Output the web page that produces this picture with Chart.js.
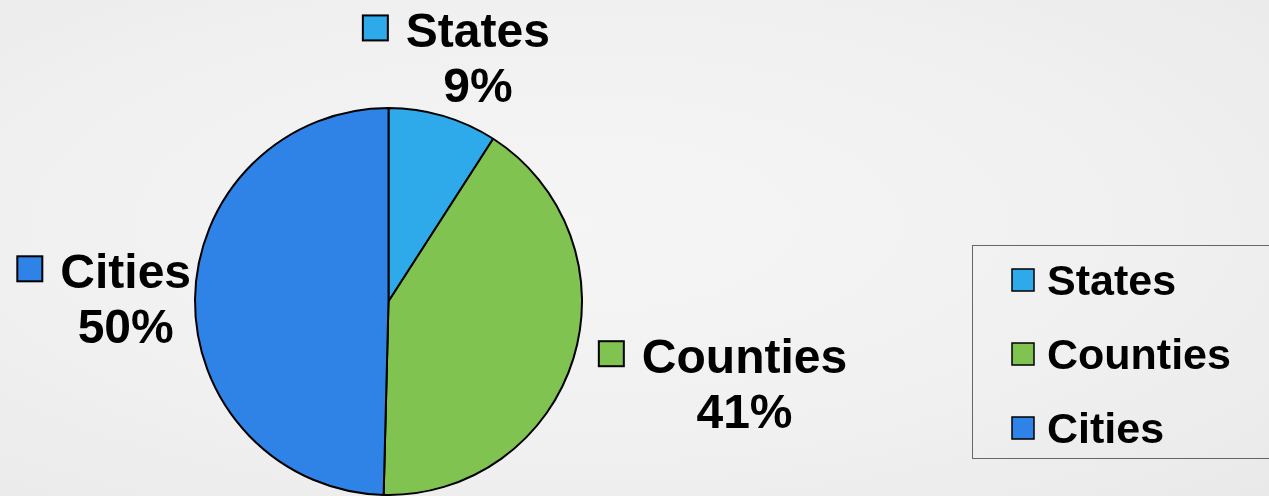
<!DOCTYPE html>
<html>
<head>
<meta charset="utf-8">
<style>
  html, body { margin: 0; padding: 0; }
  body {
    width: 1269px;
    height: 496px;
    overflow: hidden;
    background: radial-gradient(ellipse at 45% 45%, #f5f5f5 0%, #f0f0f0 60%, #e9e9e9 100%);
  }
  #wrap { position: relative; width: 1269px; height: 496px; }
</style>
<script src="https://cdn.jsdelivr.net/npm/chart.js"></script>
</head>
<body>
<div id="wrap"><canvas id="chart"></canvas></div>
<script>
const categories = ["States", "Counties", "Cities"];
const shares = [9.1, 41.3, 49.6];
const sliceColors = ["#2ea9ea", "#80c350", "#2f83e7"];

const FONT = '"Liberation Sans", Arial, sans-serif';

// Excel-style outside labels: key square + name, percentage underneath
const sliceLabels = {
  id: "sliceLabels",
  afterDatasetsDraw(chart, args, opts) {
    const ctx = chart.ctx;
    const meta = chart.getDatasetMeta(0);
    const total = shares.reduce((a, b) => a + b, 0);
    ctx.save();
    ctx.font = `bold ${opts.size}px ${FONT}`;
    ctx.textBaseline = "alphabetic";
    meta.data.forEach((arc, i) => {
      const mid = (arc.startAngle + arc.endAngle) / 2;
      const ux = Math.cos(mid);
      const uy = Math.sin(mid);
      const ax = arc.x + ux * (arc.outerRadius + opts.gap);
      const ay = arc.y + uy * (arc.outerRadius + opts.gap);
      const name = categories[i];
      const pct = Math.round((shares[i] / total) * 100) + "%";
      const textW = ctx.measureText(name).width;
      const w = opts.box + opts.boxGap + textW;
      const h = opts.height;
      const tx = Math.abs(ux) > 1e-6 ? w / 2 / Math.abs(ux) : Infinity;
      const ty = Math.abs(uy) > 1e-6 ? h / 2 / Math.abs(uy) : Infinity;
      const t = Math.min(tx, ty);
      const [nx, ny] = opts.nudge[i];
      const left = ax + ux * t - w / 2 + nx;
      const top = ay + uy * t - h / 2 + ny;

      ctx.fillStyle = sliceColors[i];
      ctx.strokeStyle = "#000";
      ctx.lineWidth = 2;
      ctx.fillRect(left, top + 4, opts.box, opts.box);
      ctx.strokeRect(left, top + 4, opts.box, opts.box);

      ctx.fillStyle = "#000";
      ctx.textAlign = "left";
      const textX = left + opts.box + opts.boxGap;
      ctx.fillText(name, textX, top + 36);
      ctx.textAlign = "center";
      ctx.fillText(pct, textX + textW / 2, top + 91);
    });
    ctx.restore();
  },
};

// boxed legend on the right
const boxLegend = {
  id: "boxLegend",
  afterDraw(chart, args, opts) {
    const ctx = chart.ctx;
    ctx.save();
    ctx.strokeStyle = "#666";
    ctx.lineWidth = 1;
    ctx.strokeRect(opts.x + 0.5, opts.y + 0.5, opts.width, opts.height);
    ctx.font = `bold ${opts.size}px ${FONT}`;
    ctx.textAlign = "left";
    ctx.textBaseline = "alphabetic";
    chart.data.labels.forEach((label, i) => {
      const base = opts.firstBaseline + i * opts.step;
      ctx.fillStyle = sliceColors[i];
      ctx.fillRect(opts.x + 40, base - 26, opts.box, opts.box);
      ctx.strokeStyle = "#000";
      ctx.lineWidth = 1.5;
      ctx.strokeRect(opts.x + 40, base - 26, opts.box, opts.box);
      ctx.fillStyle = "#000";
      ctx.fillText(label, opts.x + 75, base);
    });
    ctx.restore();
  },
};

new Chart(document.getElementById("chart"), {
  type: "pie",
  data: {
    labels: categories,
    datasets: [
      {
        data: shares,
        backgroundColor: sliceColors,
        borderColor: "#000",
        borderWidth: 2,
        borderAlign: "center",
      },
    ],
  },
  options: {
    responsive: true,
    maintainAspectRatio: false,
    animation: false,
    events: [],
    layout: {
      padding: { left: 194, right: 686, top: 107, bottom: 0 },
    },
    plugins: {
      legend: { display: false },
      tooltip: { enabled: false },
      sliceLabels: {
        size: 48, box: 25, boxGap: 18, height: 91, gap: 14,
        nudge: [[-4, 0], [12, -18], [10, 0]],
      },
      boxLegend: {
        x: 972, y: 245, width: 320, height: 213,
        size: 43, box: 22, firstBaseline: 295, step: 74,
      },
    },
  },
  plugins: [sliceLabels, boxLegend],
});
</script>
</body>
</html>
